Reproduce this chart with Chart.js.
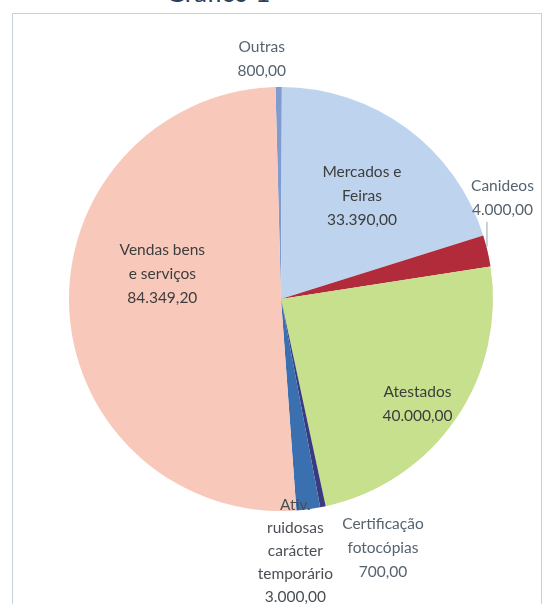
<!DOCTYPE html>
<html>
<head>
  <meta charset="utf-8">
  <title>Gráfico 1</title>
  <script src="https://cdn.jsdelivr.net/npm/chart.js"></script>
  <style>
    body {
      margin: 0;
      background: white;
      overflow: hidden;
      font-family: Lato, "Open Sans", sans-serif;
    }

    #wrap {
      position: relative;
      width: 546px;
      height: 604px;
      overflow: hidden;
    }

    #title {
      position: absolute;
      left: 166px;
      top: -21px;
      font-size: 26px;
      line-height: 26px;
      color: #2c3e5c;
    }

    #frame {
      position: absolute;
      left: 12px;
      top: 13px;
      width: 528px;
      height: 640px;
      border: 1px solid #c4d2dc;
    }

    canvas {
      position: absolute;
      left: 0;
      top: 0;
    }
  </style>
</head>
<body>

  <div id="wrap">
    <div id="title">Gráfico 1</div>
    <div id="frame"></div>
    <canvas id="pieChart" width="546" height="604"></canvas>
  </div>

  <script>
    // data
    const categories = [
      ["Outras"],
      ["Mercados e", "Feiras"],
      ["Canideos"],
      ["Atestados"],
      ["Certificação", "fotocópias"],
      ["Ativ.", "ruidosas", "carácter", "temporário"],
      ["Vendas bens", "e serviços"]
    ];
    const values = [800, 33390, 4000, 40000, 700, 3000, 84349.2];
    const colors = ["#7f9bd0", "#bed4ee", "#b12b3b", "#c6e08e", "#3b3a7e", "#3a6fb0", "#f8c9ba"];

    // label placement: radius factor along the slice's mid angle, plus a nudge
    const labelPos = [
      { f: 1, dx: -17, dy: -40, color: "#56636f" },
      { f: 0.62, dx: 3, dy: -21, color: "#3d3d3d" },
      { f: 1, dx: 15, dy: -65, color: "#56636f", leader: true },
      { f: 0.81, dx: -5, dy: -4, color: "#3d3d3d" },
      { f: 1, dx: 60, dy: 17, color: "#56636f" },
      { f: 1, dx: -13, dy: -4, color: "#4a4f55", gap: 23 },
      { f: 0.57, dx: 2, dy: -55, color: "#3d3d3d" }
    ];

    function fmt(v) {
      const parts = v.toFixed(2).split(".");
      parts[0] = parts[0].replace(/\B(?=(\d{3})+(?!\d))/g, ".");
      return parts.join(",");
    }

    const pieLabels = {
      id: "pieLabels",
      afterDatasetsDraw(chart) {
        const ctx = chart.ctx;
        const arcs = chart.getDatasetMeta(0).data;
        ctx.save();
        ctx.font = "15.5px Lato";
        ctx.textAlign = "center";
        ctx.textBaseline = "middle";
        arcs.forEach((arc, i) => {
          const p = labelPos[i];
          const mid = (arc.startAngle + arc.endAngle) / 2;
          const r = arc.outerRadius * p.f;
          const ax = arc.x + Math.cos(mid) * r;
          const ay = arc.y + Math.sin(mid) * r;
          const lines = categories[i].concat([fmt(values[i])]);
          const gap = p.gap || 24;
          const x = ax + p.dx;
          const y0 = ay + p.dy;
          if (p.leader) {
            ctx.strokeStyle = "#9aa4ad";
            ctx.lineWidth = 1;
            ctx.beginPath();
            ctx.moveTo(ax - 0.5, ay - 4);
            ctx.lineTo(ax - 0.5, y0 + gap * (lines.length - 1) + 12);
            ctx.stroke();
          }
          ctx.fillStyle = p.color;
          lines.forEach((t, k) => ctx.fillText(t, x, y0 + k * gap));
        });
        ctx.restore();
      }
    };

    const ctx = document.getElementById("pieChart").getContext("2d");
    new Chart(ctx, {
      type: "pie",
      data: {
        labels: categories.map(c => c.join(" ")),
        datasets: [{
          data: values,
          backgroundColor: colors,
          borderWidth: 0
        }]
      },
      options: {
        responsive: false,
        animation: false,
        rotation: -1.5,
        layout: {
          padding: { left: 69, right: 53, top: 87, bottom: 93 }
        },
        plugins: {
          legend: { display: false },
          tooltip: { enabled: false }
        }
      },
      plugins: [pieLabels]
    });
  </script>

</body>
</html>
